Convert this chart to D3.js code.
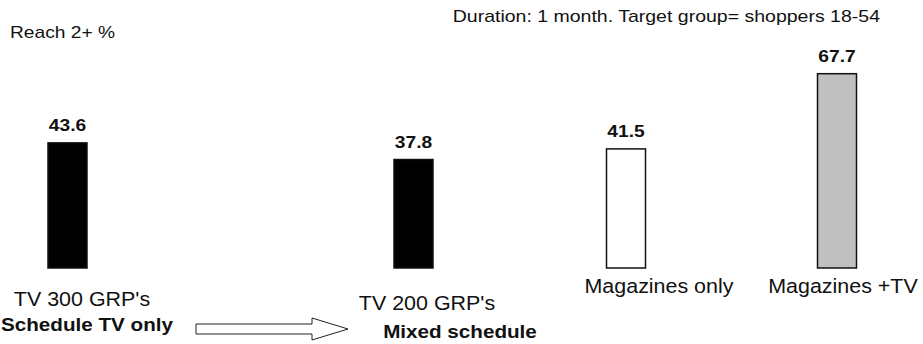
<!DOCTYPE html>
<html>
<head>
<meta charset="utf-8">
<script src="https://cdn.jsdelivr.net/npm/d3@7"></script>
<style>
  html, body { margin: 0; padding: 0; background: #fff; }
  svg { display: block; font-family: "Liberation Sans", Arial, sans-serif; }
</style>
</head>
<body>
<svg id="chart" width="923" height="344"></svg>
<script>
// Reach 2+ (%) by media schedule
const categories = ["TV 300 GRP's", "TV 200 GRP's", "Magazines only", "Magazines +TV"];
const reach = [43.6, 37.8, 41.5, 67.7];
const valueLabels = ["43.6", "37.8", "41.5", "67.7"];
const barFills = ["#000000", "#000000", "#ffffff", "#c0c0c0"];
const groupLabels = ["Schedule TV only", "Mixed schedule"];
const axisTitle = "Reach 2+ %";
const note = "Duration: 1 month. Target group= shoppers 18-54";

const svg = d3.select("#chart");
const baseline = 268;
const barWidth = 39;

// bar centres are spread unevenly: the TV-only bar sits apart from the rest
const x = d3.scaleOrdinal().domain(categories).range([67.5, 413.5, 626, 837]);
const y = d3.scaleLinear().domain([0, 100]).range([baseline, baseline - 287]);

// category labels are nudged relative to their bars
const labelPos = d3.scaleOrdinal().domain(categories)
  .range([[82, 306], [427, 310], [659, 293], [843, 293]]);

// horizontally widened text, anchored at its own x
const widen = (sx, cx) => `translate(${cx},0) scale(${sx},1) translate(${-cx},0)`;

svg.append("text")
  .attr("x", 10).attr("y", 38)
  .attr("font-size", 16).attr("fill", "#111")
  .attr("transform", widen(1.2, 10))
  .text(axisTitle);

svg.append("text")
  .attr("x", 880).attr("y", 22)
  .attr("text-anchor", "end")
  .attr("font-size", 16).attr("fill", "#111")
  .attr("transform", widen(1.22, 880))
  .text(note);

const bars = svg.append("g");
bars.selectAll("rect")
  .data(categories)
  .join("rect")
  .attr("x", d => x(d) - barWidth / 2)
  .attr("y", (d, i) => y(reach[i]))
  .attr("width", barWidth)
  .attr("height", (d, i) => y(0) - y(reach[i]))
  .attr("fill", (d, i) => barFills[i])
  .attr("stroke", "#111")
  .attr("stroke-width", 1.5);

svg.append("g").selectAll("text")
  .data(categories)
  .join("text")
  .attr("x", d => x(d))
  .attr("y", (d, i) => y(reach[i]) - 12)
  .attr("text-anchor", "middle")
  .attr("font-weight", "bold")
  .attr("font-size", 17)
  .attr("fill", "#111")
  .attr("transform", d => widen(1.13, x(d)))
  .text((d, i) => valueLabels[i]);

svg.append("g").selectAll("text")
  .data(categories)
  .join("text")
  .attr("x", d => labelPos(d)[0])
  .attr("y", d => labelPos(d)[1])
  .attr("text-anchor", "middle")
  .attr("font-size", 19.5)
  .attr("fill", "#111")
  .attr("transform", d => widen(1.1, labelPos(d)[0]))
  .text(d => d);

const groupPos = [[87, 331], [460, 338]];
svg.append("g").selectAll("text")
  .data(groupLabels)
  .join("text")
  .attr("x", (d, i) => groupPos[i][0])
  .attr("y", (d, i) => groupPos[i][1])
  .attr("text-anchor", "middle")
  .attr("font-weight", "bold")
  .attr("font-size", 17.5)
  .attr("fill", "#111")
  .attr("transform", (d, i) => widen(1.18, groupPos[i][0]))
  .text(d => d);

// hollow arrow from the TV-only schedule towards the mixed schedule
const arrow = d3.path();
arrow.moveTo(196, 324);
arrow.lineTo(312, 324);
arrow.lineTo(312, 318);
arrow.lineTo(348, 329);
arrow.lineTo(312, 340);
arrow.lineTo(312, 334);
arrow.lineTo(196, 334);
arrow.closePath();
svg.append("path")
  .attr("d", arrow.toString())
  .attr("fill", "#fff")
  .attr("stroke", "#222")
  .attr("stroke-width", 1);
</script>
</body>
</html>
